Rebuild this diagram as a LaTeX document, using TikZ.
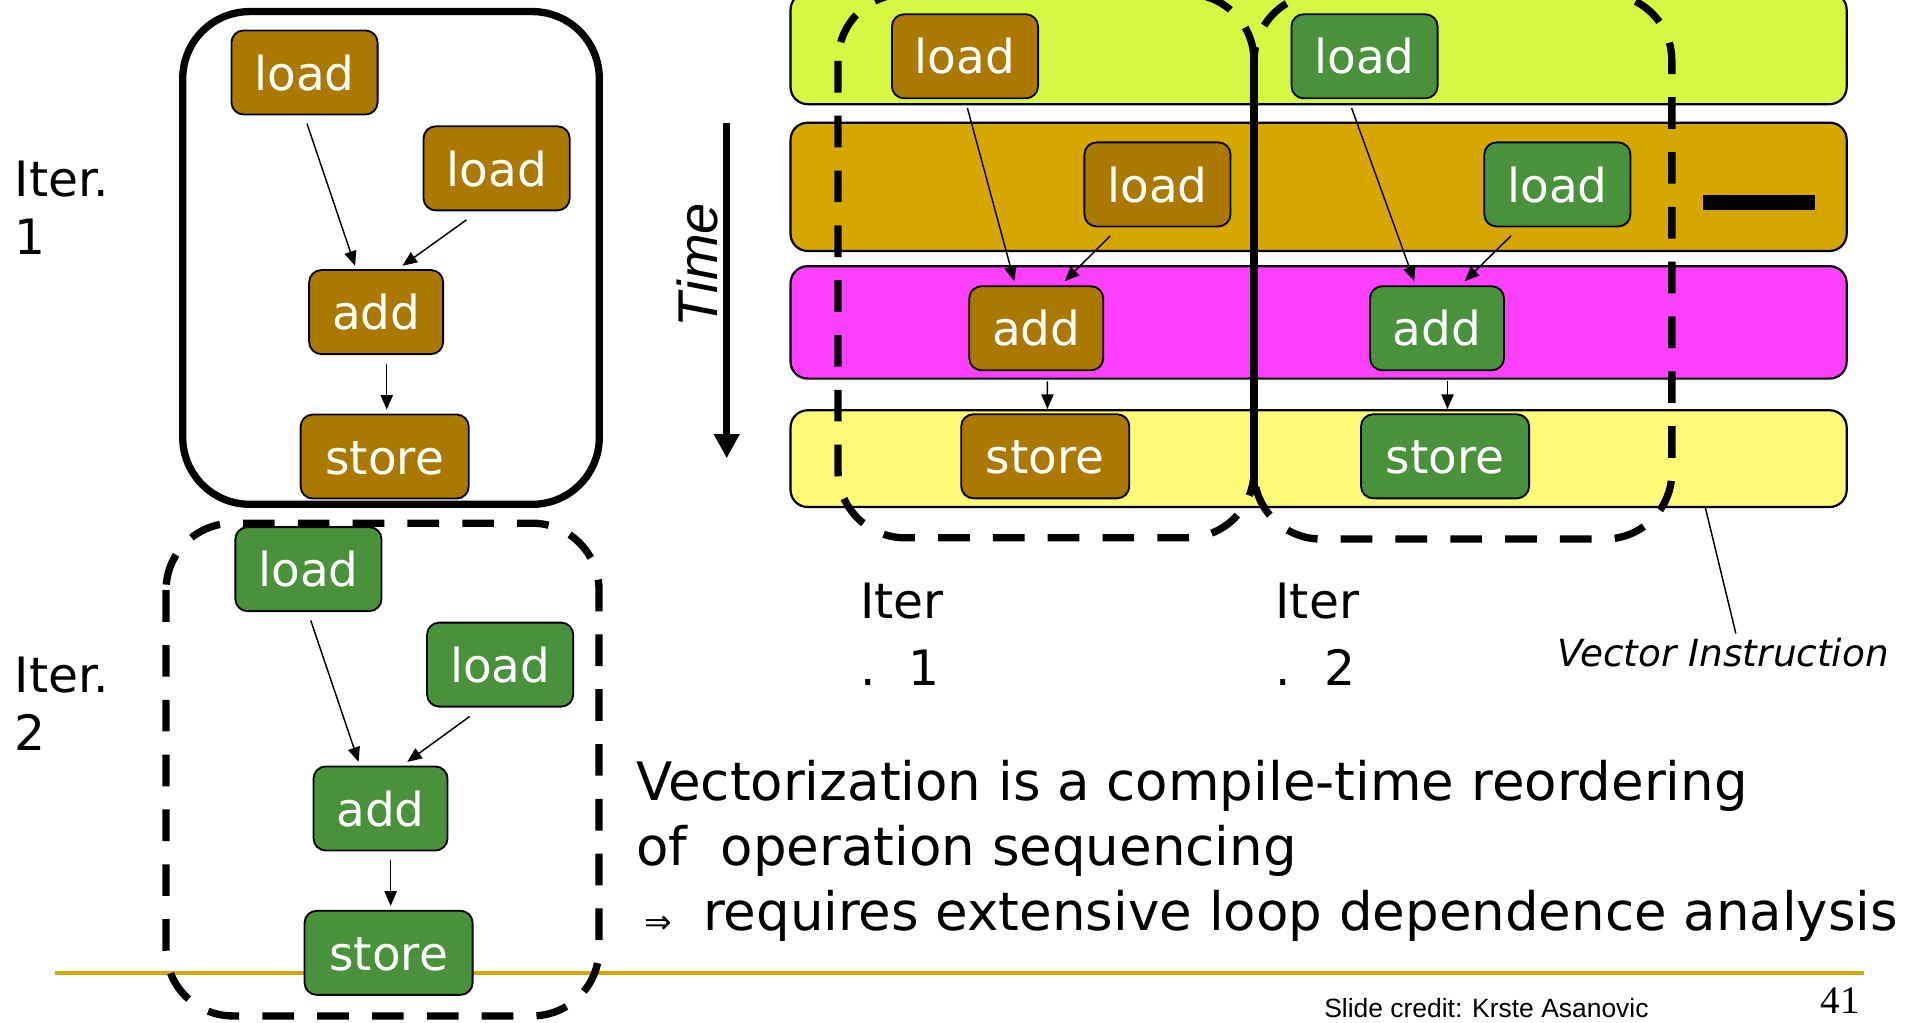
\documentclass[tikz,border=0pt]{standalone}
\usepackage{fontspec}
\setmainfont{DejaVu Sans}
\newfontfamily\arialfont{Liberation Sans}
\newfontfamily\timesfont{Liberation Serif}
\usetikzlibrary{arrows.meta,calc}
\definecolor{brownbox}{HTML}{AB7900}
\definecolor{greenbox}{HTML}{49913B}
\definecolor{limeband}{HTML}{D5F843}
\definecolor{orangeband}{HTML}{D6A700}
\definecolor{magband}{HTML}{FF40FF}
\definecolor{yelband}{HTML}{FFFA78}
\definecolor{goldline}{HTML}{D4A800}
\begin{document}
\begin{tikzpicture}[x=1pt,y=-1pt,
  op/.style={draw=black, line width=1.5pt, rounded corners=10pt, text=white,
    minimum height=69pt, inner sep=0pt, text height=29pt, text depth=0pt,
    font=\fontsize{38.5}{46}\selectfont},
  ld/.style={op, minimum width=120pt},
  ad/.style={op, minimum width=110pt},
  st/.style={op, minimum width=138pt},
  bop/.style={fill=brownbox},
  gop/.style={fill=greenbox},
  band/.style={draw=black, line width=1.8pt, rounded corners=14pt},
  dep/.style={-{Triangle[length=12pt,width=10pt]}, line width=1.2pt},
  itbox/.style={draw=black, line width=6pt, rounded corners=55pt},
  itdash/.style={itbox, dash pattern=on 26pt off 19pt},
  lbl/.style={anchor=base west, inner sep=0pt, font=\fontsize{40}{48}\selectfont},
  body/.style={anchor=base west, inner sep=0pt, font=\fontsize{43.5}{53}\selectfont}
]
\useasboundingbox (0,0) rectangle (1568,839);
\clip (0,0) rectangle (1568,839);

% gold footer line
\draw[goldline, line width=3.5pt] (45,798.5) -- (1530,798.5);

% ---------- left: iteration boxes ----------
\draw[itbox] (150,9.5) rectangle (492,414);
\draw[itdash] (136.3,429.5) rectangle (491.8,834);

\node[lbl] (it1a) at (12,161.4) {Iter.};
\node[lbl] (it1b) at (12,209.3) {1};
\node[lbl] (it2a) at (12,568.7) {Iter.};
\node[lbl] (it2b) at (12,615.8) {2};

% iteration 1 (brown)
\node[ld,bop] (aL1) at (250,59.5) {load};
\node[ld,bop] (aL2) at (407.7,138.2) {load};
\node[ad,bop] (aA) at (308.8,256.2) {add};
\node[st,bop] (aS) at (315.8,374.8) {store};
\draw[dep] ($(aL1.south)+(2,6.7)$) -- ($(aA.north)+(-17.3,-2.8)$);
\draw[dep] ($(aL2.south)+(-24.7,7)$) -- ($(aA.north)+(21.6,-2.8)$);
\draw[dep] ($(aA.south)+(8.7,7.5)$) -- ($(aS.north)+(1.7,-3.2)$);

% iteration 2 (green)
\node[ld,gop] (bL1) at (253.2,467.2) {load};
\node[ld,gop] (bL2) at (410.6,545.6) {load};
\node[ad,gop] (bA) at (312.4,663.7) {add};
\node[st,gop] (bS) at (319,782.2) {store};
\draw[dep] ($(bL1.south)+(1.9,6.9)$) -- ($(bA.north)+(-18,-3)$);
\draw[dep] ($(bL2.south)+(-25,7.3)$) -- ($(bA.north)+(21.9,-3)$);
\draw[dep] ($(bA.south)+(8.3,7.4)$) -- ($(bS.north)+(1.7,-3.3)$);

% ---------- right: vector instructions ----------
\draw[band, fill=limeband] (649,-6) rectangle (1516,85.5);
\draw[band, fill=orangeband] (649,100.7) rectangle (1516,206);
\draw[band, fill=magband] (649,218.5) rectangle (1516,310.8);
\draw[band, fill=yelband] (649,336.8) rectangle (1516,416.2);

\fill[black] (1398,160) rectangle (1490,172.5);

\draw[itdash] (688,-5) rectangle (1029.5,441.5);
\draw[itdash, dash phase=10pt] (1029.5,-5) rectangle (1372.5,442.5);
\draw[black, line width=6pt] (1029.5,40) -- (1029.5,400);

% time arrow
\coordinate (t0) at (596.6,100.7);
\coordinate (t1) at (596.6,376.3);
\draw[line width=6pt, -{Triangle[length=20pt,width=20pt]}] (t0) -- (t1);
\node[rotate=90, inner sep=0pt, font=\arialfont\itshape\fontsize{46}{55}\selectfont] (time) at (572.7,217.6) {Time};

% brown iteration
\node[ld,bop] (cL1) at (792.2,46.2) {load};
\node[ld,bop] (cL2) at (950.2,151.4) {load};
\node[ad,bop] (cA) at (850.7,269.5) {add};
\node[st,bop] (cS) at (858.1,374.6) {store};
\draw[dep] ($(cL1.south)+(2,7.3)$) -- ($(cA.north)+(-18,-3.4)$);
\draw[dep] ($(cL2.south)+(-38.8,7)$) -- ($(cA.north)+(23.4,-3.4)$);
\draw[dep] ($(cA.south)+(9.2,8.3)$) -- ($(cS.north)+(1.8,-3.5)$);

% green iteration
\node[ld,gop] (dL1) at (1120.2,46.2) {load};
\node[ld,gop] (dL2) at (1278.5,151.4) {load};
\node[ad,gop] (dA) at (1179.7,269.5) {add};
\node[st,gop] (dS) at (1186.3,374.6) {store};
\draw[dep] ($(dL1.south)+(-10.6,7.3)$) -- ($(dA.north)+(-18.6,-3.4)$);
\draw[dep] ($(dL2.south)+(-38.1,7)$) -- ($(dA.north)+(22.8,-3.4)$);
\draw[dep] ($(dA.south)+(8.6,8.3)$) -- ($(dS.north)+(2,-3.5)$);

% labels under right part
\node[lbl] (r1a) at (706,507.9) {Iter};
\node[lbl] (r1b) at (706,562.9) {.\hspace{27pt}1};
\node[lbl] (r2a) at (1047,507.9) {Iter};
\node[lbl] (r2b) at (1047,562.9) {.\hspace{27pt}2};

% vector instruction label
\node[anchor=base west, inner sep=0pt, font=\itshape\fontsize{30.7}{37}\selectfont] (vi) at (1278,547.5) {Vector Instruction};
\coordinate (vitop) at (1400,416.8);
\draw[line width=1.2pt] (vitop) -- (1425,520);

% body text
\node[body] (t1) at (522,657.5) {Vectorization is a compile-time reordering};
\node[body] (t2) at (522,710.8) {of\ \ operation sequencing};
\node[inner sep=0pt, font=\fontsize{27}{32}\selectfont] (imp) at (540,759.5) {⇒};
\node[body] (t3) at (577,763.5) {requires extensive loop dependence analysis};

% footer
\node[anchor=base west, inner sep=0pt, font=\arialfont\fontsize{21.7}{26}\selectfont] (credit) at (1087,835) {Slide credit: Krste Asanovic};
\node[anchor=base east, inner sep=0pt, font=\timesfont\fontsize{32}{38}\selectfont] (pg) at (1527,832) {41};
\end{tikzpicture}
\end{document}
